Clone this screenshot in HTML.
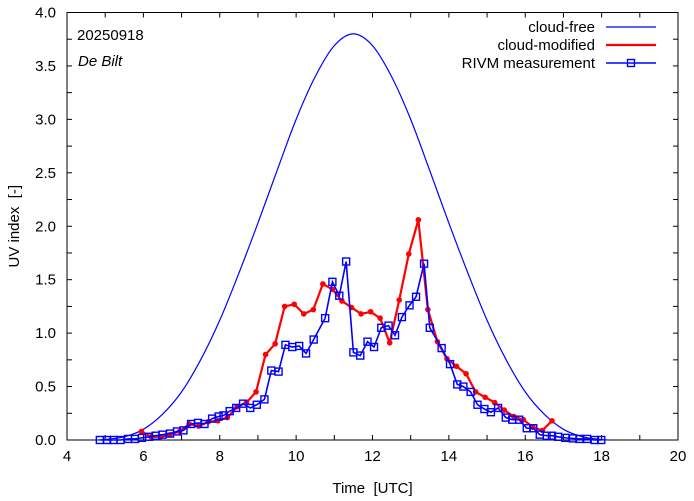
<!DOCTYPE html>
<html><head><meta charset="utf-8"><style>
body{margin:0;background:#fff}
svg{display:block;font-family:"Liberation Sans",Arial,sans-serif}
</style></head><body>
<svg id="chart" width="694" height="501"></svg>
<script>
const xTicks=[4,6,8,10,12,14,16,18,20];
const yTicks=[0,0.5,1,1.5,2,2.5,3,3.5,4];
const yTickLabels=["0.0","0.5","1.0","1.5","2.0","2.5","3.0","3.5","4.0"];
const clearTimes=[4.8,5,5.5,6,6.5,7,7.5,8,8.5,9,9.5,10,10.5,11,11.5,12,12.5,13,13.5,14,14.5,15,15.5,16,16.5,17,17.5,18,18.2];
const clearValues=[0,0.005,0.03,0.1,0.24,0.45,0.75,1.12,1.56,2.03,2.52,3.0,3.4,3.69,3.8,3.69,3.4,3.0,2.52,2.03,1.56,1.12,0.75,0.45,0.24,0.1,0.03,0.005,0];
const cloudTimes=[5.95,6.2,6.45,6.7,6.95,7.2,7.45,7.7,7.95,8.2,8.45,8.7,8.95,9.2,9.45,9.7,9.95,10.2,10.45,10.7,10.95,11.2,11.45,11.7,11.95,12.2,12.45,12.7,12.95,13.2,13.45,13.7,13.95,14.2,14.45,14.7,14.95,15.2,15.45,15.7,15.95,16.2,16.45,16.7];
const cloudValues=[0.08,0.03,0.03,0.05,0.08,0.15,0.13,0.17,0.18,0.21,0.31,0.35,0.45,0.8,0.9,1.25,1.27,1.18,1.22,1.46,1.41,1.3,1.24,1.18,1.2,1.14,0.91,1.31,1.74,2.06,1.22,0.92,0.76,0.69,0.62,0.45,0.4,0.35,0.28,0.22,0.19,0.12,0.09,0.18];
const measTimes=[4.86,5.05,5.22,5.4,5.6,5.78,5.96,6.15,6.32,6.5,6.7,6.88,7.05,7.25,7.43,7.6,7.8,7.97,8.1,8.26,8.43,8.61,8.8,8.97,9.17,9.35,9.54,9.72,9.9,10.08,10.26,10.46,10.76,10.95,11.13,11.31,11.5,11.68,11.87,12.04,12.23,12.42,12.59,12.77,12.97,13.14,13.35,13.5,13.81,14.03,14.22,14.38,14.57,14.75,14.93,15.1,15.29,15.49,15.66,15.84,16.04,16.21,16.38,16.56,16.7,16.86,17.05,17.25,17.42,17.62,17.82,17.99];
const measValues=[0,0,0,0,0.01,0.01,0.02,0.03,0.04,0.05,0.06,0.08,0.09,0.15,0.16,0.15,0.2,0.22,0.23,0.27,0.30,0.34,0.30,0.33,0.38,0.65,0.64,0.89,0.87,0.88,0.81,0.94,1.14,1.48,1.35,1.67,0.82,0.79,0.92,0.87,1.05,1.07,0.98,1.15,1.26,1.34,1.65,1.05,0.86,0.71,0.52,0.5,0.45,0.33,0.29,0.26,0.3,0.21,0.19,0.19,0.11,0.11,0.05,0.04,0.04,0.03,0.02,0.015,0.01,0.01,0,0];

const L=67,R=678,T=12.5,B=440;
const X=t=>L+(t-4)/16*(R-L);
const Y=v=>B-v/4*(B-T);
const NS="http://www.w3.org/2000/svg";
const svg=document.getElementById('chart');
function mk(tag,attrs,parent){const e=document.createElementNS(NS,tag);for(const k in attrs)e.setAttribute(k,attrs[k]);(parent||svg).appendChild(e);return e;}

const frame=mk('rect',{x:L,y:T,width:R-L,height:B-T,fill:'none',stroke:'#000','stroke-width':1});



for(let t=5;t<20;t++){
  const tk=mk('line',{x1:X(t),x2:X(t),y1:B,y2:B-5,stroke:'#000'});
  
  
  const tk2=mk('line',{x1:X(t),x2:X(t),y1:T,y2:T+5,stroke:'#000'});
  
  
}
xTicks.forEach(t=>{
  const tx=mk('text',{x:X(t),y:B+21,'text-anchor':'middle','font-size':15,fill:'#000'});
  tx.textContent=t;
  
  
});
for(let v=0.25;v<4;v+=0.25){
  const tk=mk('line',{x1:L,x2:L+5,y1:Y(v),y2:Y(v),stroke:'#000'});
  
  
  const tk2=mk('line',{x1:R,x2:R-5,y1:Y(v),y2:Y(v),stroke:'#000'});
  
  
}
yTicks.forEach((v,i)=>{
  const tx=mk('text',{x:L-11,y:Y(v)+5,'text-anchor':'end','font-size':15,fill:'#000'});
  tx.textContent=yTickLabels[i];
  
  
});
const xt=mk('text',{x:(L+R)/2,y:493,'text-anchor':'middle','font-size':15});
xt.textContent='Time \u00a0[UTC]';


const yt=mk('text',{x:19,y:(T+B)/2,'text-anchor':'middle','font-size':15,transform:`rotate(-90 19 ${(T+B)/2})`});
yt.textContent='UV index \u00a0[-]';



function smoothPath(ts,vs){
  const p=ts.map((t,i)=>[X(t),Y(vs[i])]);
  let d=`M${p[0][0]},${p[0][1]}`;
  for(let i=0;i<p.length-1;i++){
    const p0=p[i-1]||p[i],p1=p[i],p2=p[i+1],p3=p[i+2]||p[i+1];
    d+=` C${p1[0]+(p2[0]-p0[0])/6},${p1[1]+(p2[1]-p0[1])/6} ${p2[0]-(p3[0]-p1[0])/6},${p2[1]-(p3[1]-p1[1])/6} ${p2[0]},${p2[1]}`;
  }
  return d;
}
const cf=mk('path',{d:smoothPath(clearTimes,clearValues),fill:'none',stroke:'#0000ff','stroke-width':1.2});



const cm=mk('polyline',{points:cloudTimes.map((t,i)=>X(t)+','+Y(cloudValues[i])).join(' '),fill:'none',stroke:'#ff0000','stroke-width':2.2});


cloudTimes.forEach((t,i)=>{
  const c=mk('circle',{cx:X(t),cy:Y(cloudValues[i]),r:2.8,fill:'#ff0000'});
  
  
});

const ml=mk('polyline',{points:measTimes.map((t,i)=>X(t)+','+Y(measValues[i])).join(' '),fill:'none',stroke:'#0000ff','stroke-width':1.6});


measTimes.forEach((t,i)=>{
  const s=mk('rect',{x:X(t)-3.5,y:Y(measValues[i])-3.5,width:7,height:7,fill:'none',stroke:'#0000ff','stroke-width':1.4});
  
  
});

const d1=mk('text',{x:77,y:40,'font-size':15});
d1.textContent='20250918';


const d2=mk('text',{x:78,y:66,'font-size':15,'font-style':'italic'});
d2.textContent='De Bilt';



const leg=[['cloud-free','#0000ff',1.2,false],['cloud-modified','#ff0000',2.2,false],['RIVM measurement','#0000ff',1.6,true]];
leg.forEach((e,i)=>{
  const y=27+i*18;
  const tx=mk('text',{x:595,y:y+5,'text-anchor':'end','font-size':15});
  tx.textContent=e[0];
  
  
  const ln=mk('line',{x1:606,x2:656,y1:y,y2:y,stroke:e[1],'stroke-width':e[2]});
  
  
  if(e[3]){
    const s=mk('rect',{x:627.5,y:y-3.5,width:7,height:7,fill:'none',stroke:'#0000ff','stroke-width':1.4});
    
    
  }
});
</script>
</body></html>
